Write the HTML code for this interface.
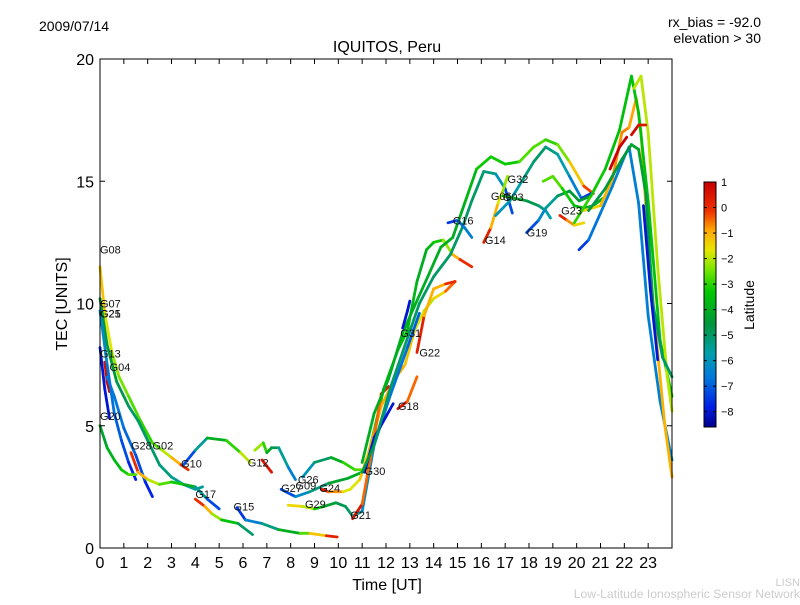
<!DOCTYPE html>
<html><head><meta charset="utf-8"><style>
body{margin:0;background:#fff;}
svg text{font-family:"Liberation Sans","DejaVu Sans",sans-serif;}
</style></head><body>
<svg id="chart" width="800" height="600" xmlns="http://www.w3.org/2000/svg">
<rect width="800" height="600" fill="#fff"/>
<text x="39" y="31" font-size="14">2009/07/14</text>
<text x="761" y="27" font-size="14" text-anchor="end">rx_bias = -92.0</text>
<text x="761" y="43" font-size="14" text-anchor="end">elevation &gt; 30</text>
<text x="387" y="52" font-size="16" text-anchor="middle">IQUITOS, Peru</text>
<text x="387" y="590" font-size="16" text-anchor="middle">Time [UT]</text>
<text x="0" y="0" font-size="16" text-anchor="middle" transform="translate(67,304) rotate(-90)">TEC [UNITS]</text>
<text x="0" y="0" font-size="14" text-anchor="middle" transform="translate(754,305) rotate(-90)">Latitude</text>
<text x="800" y="586" font-size="11" fill="#ccc" text-anchor="end">LISN</text>
<text x="800" y="598" font-size="12.2" fill="#ccc" text-anchor="end">Low-Latitude Ionospheric Sensor Network</text>
<g id="plot"></g>
<g id="axes"></g>
<g id="cbar"></g>
</svg>
<script>
const xTicks=[0,1,2,3,4,5,6,7,8,9,10,11,12,13,14,15,16,17,18,19,20,21,22,23];
const yTicks=[0,5,10,15,20];
const cbTicks=[1,0,-1,-2,-3,-4,-5,-6,-7,-8];
const latMin=-8.6, latMax=1.0;
const tracks=[
{t:[0,0.2,0.5,0.8,1.2,1.7,2.2,2.6,3.0,3.4,3.7],v:[11.5,9.6,8.0,7.0,6.2,5.2,4.3,4.0,3.7,3.4,3.2],lat:[-1,-1.5,-2,-2.5,-2.5,-3,-3,-2.5,-1.5,-0.5,0.5]},
{t:[0,0.3,0.7,1.2,1.6,2.0,2.5,3.0,3.5,4.0,4.3],v:[10.2,8.3,6.8,5.8,5.2,4.4,3.4,2.9,2.6,2.4,2.5],lat:[-4.5,-4.5,-4.5,-5,-5,-5,-5,-5.5,-5.5,-6,-5]},
{t:[0,0.2,0.4],v:[8.2,6.5,5.3],lat:[-8,-8,-8]},
{t:[0.2,0.3,0.4],v:[7.6,6.8,6.4],lat:[0.5,0.8,1]},
{t:[0.3,0.6,1.0,1.5,1.9,2.2],v:[7.0,6.2,4.9,3.8,2.7,2.1],lat:[-6.5,-6.5,-6.8,-7,-7.5,-8]},
{t:[0,0.3,0.6,0.9,1.2,1.5],v:[9.7,7.5,5.5,4.4,3.5,2.8],lat:[-6,-6.5,-7,-7,-7.5,-8]},
{t:[0,0.3,0.6,0.9,1.2,1.5],v:[5.0,4.1,3.6,3.2,3.0,3.0],lat:[-4.5,-4,-3.8,-3.5,-3,-2.5]},
{t:[1.3,1.6,2.0,2.5,3.0,3.5,4.0,4.5,5.0],v:[3.9,3.1,2.8,2.6,2.7,2.6,2.5,2.0,1.6],lat:[0.5,-0.5,-1.5,-2.5,-3,-3.5,-4.5,-6.5,-8]},
{t:[4.0,4.4,4.7,5.1,5.8,6.4],v:[2.0,1.7,1.4,1.15,1.0,0.55],lat:[0.5,-0.5,-1.5,-3,-4,-6]},
{t:[5.75,6.1,6.8,7.5,8.4,8.8,9.5,9.95],v:[1.65,1.15,1.0,0.75,0.6,0.6,0.5,0.45],lat:[-8,-7,-6,-4.5,-3.5,-2,-0.5,1]},
{t:[3.5,4.0,4.5,5.3,5.9,6.3],v:[3.4,4.0,4.5,4.4,3.9,3.5],lat:[-8,-6.5,-4.5,-3.5,-2.5,-1.5]},
{t:[6.5,6.85,7.0,7.2,7.5,7.9,8.2],v:[4.0,4.3,3.9,4.1,4.1,3.3,2.8],lat:[-2,-2.5,-3.5,-4.5,-5,-6,-7]},
{t:[6.8,7.2],v:[3.6,3.1],lat:[0,1]},
{t:[8.5,9.0,9.7,10.2,10.7,11.1,11.5,11.9,12.5,12.9,13.3,13.7,14.0,14.4,14.8,15.1,15.6],v:[2.9,3.5,3.7,3.5,3.2,3.2,4.8,6.5,8.1,8.9,10.9,12.2,12.5,12.6,12.0,11.8,11.5],lat:[-6.5,-5.5,-4.5,-3.5,-2.5,-3,-3.5,-3.5,-3.5,-3.5,-4,-4,-3.5,-3,-1.5,-0.5,0.5]},
{t:[7.6,8.2,8.8,9.6,10.4,11.0],v:[2.4,2.1,2.3,2.65,2.85,3.1],lat:[-8,-6.5,-6,-4.5,-4,-4]},
{t:[9.3,9.6,10.2,10.5,10.9,11.3,11.8,12.3,12.8,13.2,13.6,14.0,14.5,14.9],v:[2.4,2.3,2.3,2.4,2.8,4.0,5.8,6.8,7.5,8.9,9.7,10.2,10.5,10.9],lat:[1,0,-1.5,-2,-1.5,-1,-1,-1,-1,-1.5,-2,-2,-1,0]},
{t:[7.9,8.5,9.0,9.4,9.9,10.3,10.6,11.0,11.5,12.2,12.9,13.4],v:[1.75,1.7,1.6,1.7,1.85,1.7,1.3,1.5,4.2,6.3,8.2,9.6],lat:[-2,-1,-3,-4,-4.5,-5,-5,-6,-6.5,-6.5,-7,-7]},
{t:[10.6,11.0,11.5,11.8,12.1],v:[1.2,1.8,4.5,6.3,6.6],lat:[1,0,-1,0,1]},
{t:[11.1,11.5,12.3],v:[3.1,4.5,5.9],lat:[-8,-8,-8]},
{t:[12.5,12.9,13.3],v:[5.7,6.0,7.0],lat:[1,0,-1]},
{t:[13.3,13.6,14.0,14.5,14.9],v:[8.0,9.5,10.6,10.8,10.9],lat:[1,-0.5,-1.5,-0.5,0.5]},
{t:[11.0,11.5,12.2,12.8,13.4,14.0,14.7,15.2,15.6,16.1,16.6,17.0,17.3],v:[3.1,4.2,6.6,8.3,10.0,11.1,12.0,13.1,14.2,15.4,15.3,14.7,13.7],lat:[-4.5,-5,-5,-5,-5,-5,-5,-5,-5,-5,-5.5,-6.5,-8]},
{t:[11.0,11.5,12.1,12.7,13.2,13.8,14.3,14.8,15.3,15.8,16.4,17.0,17.6,18.2,18.7,19.2,19.7,20.3,20.7],v:[3.5,5.5,6.9,8.8,9.9,11.2,12.3,12.7,14.1,15.5,16.0,15.7,15.8,16.4,16.7,16.5,15.8,14.8,14.5],lat:[-4,-4,-4,-4,-4,-4,-4,-4,-4,-3.5,-3,-3.5,-3,-2.5,-3,-3,-2,-0.5,0]},
{t:[14.6,15.0,15.3,15.6],v:[13.3,13.4,13.1,12.7],lat:[-8,-7,-6.5,-6.5]},
{t:[16.1,16.4,16.7,16.9,17.1],v:[12.5,13.1,14.1,14.6,15.2],lat:[1,-0.5,-1.5,-2,-2.5]},
{t:[16.6,17.2,17.7,18.2,18.7,19.2,19.7,20.2,20.6],v:[13.6,14.2,15.0,15.8,16.4,16.1,15.2,14.3,14.5],lat:[-6,-6,-5.5,-5,-5,-5.5,-6,-7,-8]},
{t:[16.9,17.4,17.9,18.4,18.7,18.9],v:[14.4,14.3,14.2,14.0,13.8,13.5],lat:[-3.5,-4,-4.5,-5,-5.5,-6]},
{t:[17.9,18.4,18.7,19.2,19.7,20.1,20.6],v:[12.9,13.4,13.9,14.4,14.6,14.2,14.4],lat:[-8,-6.5,-6,-5,-4.5,-4.5,-4.5]},
{t:[18.6,19.0,19.4,19.9,20.3,20.7,21.1],v:[15.0,15.2,14.7,14.0,13.9,14.0,14.3],lat:[-3,-2.5,-3,-3.5,-4,-4,-4]},
{t:[19.3,19.6,19.9,20.3],v:[13.6,13.4,13.2,13.3],lat:[1,-0.5,-1,-2]},
{t:[20.1,20.5,21.0,21.5,22.0,22.2,22.6,23.0,23.5,24.0],v:[12.2,12.6,13.7,14.8,16.0,16.4,14.1,9.5,6.0,3.6],lat:[-8,-7,-6.5,-6.5,-6.5,-6.5,-6.5,-6.5,-6.5,-6.3]},
{t:[20.3,21.0,21.5,21.9,22.2,22.5,22.7,23.0,23.3,23.7,24.0],v:[13.8,14.0,15.1,17.0,17.2,18.4,17.0,12.5,9.0,5.0,2.9],lat:[-2,-1,-1,-0.5,-0.8,-1,-1,-1,-1,-1,-1]},
{t:[19.9,20.6,21.2,21.8,22.3,22.6,23.0,23.5,24.0],v:[13.3,14.4,15.5,17.1,19.3,17.8,14.2,8.5,6.2],lat:[-3,-3,-3.5,-3.5,-3.5,-3.5,-3.5,-3.5,-3.5]},
{t:[22.4,22.7,23.0,23.4,23.8,24.0],v:[18.8,19.3,17.0,11.5,7.0,5.6],lat:[-2,-2,-2,-2,-2,-2]},
{t:[20.5,21.2,21.9,22.3,22.6,22.9,23.2,23.6,24.0],v:[13.8,14.7,15.9,16.5,16.3,14.5,10.0,7.8,7.0],lat:[-5,-4.5,-4.5,-4.5,-4,-4.5,-5,-5,-5]},
{t:[21.4,21.8,22.1],v:[15.5,16.4,16.8],lat:[1,1,1]},
{t:[22.3,22.6,22.9],v:[16.9,17.3,17.3],lat:[1,0.5,0.5]},
{t:[22.8,23.1,23.4],v:[14.0,10.5,7.7],lat:[-8,-8,-8]},
{t:[12.7,12.9,13.0],v:[9.0,9.7,10.1],lat:[-8,-8,-8]}
];
const labelNames=["G08","G07","G25","G21","G13","G04","G20","G28","G02","G10","G12","G17","G15","G27","G26","G09","G24","G29","G21","G30","G18","G31","G22","G16","G14","G06","G03","G32","G19","G23"];
const labelT=[0,0,0,0,0,0.4,0,1.3,2.2,3.4,6.2,4.0,5.6,7.6,8.3,8.2,9.2,8.6,10.5,11.1,12.5,12.6,13.4,14.8,16.15,16.4,16.9,17.1,17.9,19.35];
const labelV=[12.2,10.0,9.6,9.6,7.95,7.4,5.4,4.2,4.2,3.45,3.5,2.2,1.7,2.45,2.8,2.55,2.45,1.8,1.35,3.15,5.8,8.8,8.0,13.4,12.6,14.4,14.35,15.1,12.9,13.8];

const X0=100,X1=672,Y0=548,Y1=59;
const xs=t=>X0+(X1-X0)*t/24;
const ys=v=>Y0-(Y0-Y1)*v/20;
const CB={x:704,w:12,top:182,bot:427};
const cy=l=>CB.bot-(CB.bot-CB.top)*(l-latMin)/(latMax-latMin);
const stops=[[0,[0,0,140]],[0.08,[0,30,230]],[0.2,[0,120,220]],[0.3,[0,160,170]],[0.42,[0,150,60]],[0.55,[0,200,0]],[0.64,[120,230,0]],[0.72,[230,230,0]],[0.8,[255,170,0]],[0.88,[240,50,0]],[1,[200,0,0]]];
function col(l){let f=(l-latMin)/(latMax-latMin);f=Math.max(0,Math.min(1,f));
for(let i=1;i<stops.length;i++){if(f<=stops[i][0]){const a=stops[i-1],b=stops[i];const k=(f-a[0])/(b[0]-a[0]);
const c=a[1].map((x,j)=>Math.round(x+(b[1][j]-x)*k));return `rgb(${c[0]},${c[1]},${c[2]})`;}}return 'rgb(200,0,0)';}
const NS='http://www.w3.org/2000/svg';
function mk(tag,attrs,parent){const e=document.createElementNS(NS,tag);for(const k in attrs)e.setAttribute(k,attrs[k]);parent.appendChild(e);return e;}
const plot=document.getElementById('plot'),axes=document.getElementById('axes'),cb=document.getElementById('cbar');
tracks.forEach((tr,ti)=>{
  const g=mk('g',{},plot);
  
  
  for(let i=1;i<tr.t.length;i++){
    const s=mk('line',{x1:xs(tr.t[i-1]),y1:ys(tr.v[i-1]),x2:xs(tr.t[i]),y2:ys(tr.v[i]),stroke:col((tr.lat[i-1]+tr.lat[i])/2),'stroke-width':2.8,'stroke-linecap':'round'},g);
    
    
  }
});
labelNames.forEach((n,i)=>{
  const t=mk('text',{x:xs(labelT[i]),y:ys(labelV[i])+4,'font-size':11,fill:'#111'},plot);
  t.textContent=n;
  
  
});
const fr=mk('rect',{x:X0,y:Y1,width:X1-X0,height:Y0-Y1,fill:'none',stroke:'#000','stroke-width':1},axes);


xTicks.forEach(t=>{const x=xs(t);
  mk('line',{x1:x,y1:Y0,x2:x,y2:Y0-5,stroke:'#000'},axes);mk('line',{x1:x,y1:Y1,x2:x,y2:Y1+5,stroke:'#000'},axes);
  const l=mk('text',{x:x,y:Y0+20,'font-size':16,'text-anchor':'middle'},axes);l.textContent=t;
  
  });
yTicks.forEach(v=>{const y=ys(v);
  mk('line',{x1:X0,y1:y,x2:X0+5,y2:y,stroke:'#000'},axes);mk('line',{x1:X1,y1:y,x2:X1-5,y2:y,stroke:'#000'},axes);
  const l=mk('text',{x:X0-6,y:y+6,'font-size':16,'text-anchor':'end'},axes);l.textContent=v;
  
  });
for(let y=CB.bot;y>CB.top;y-=1){mk('rect',{x:CB.x,y:y-1,width:CB.w,height:1.2,fill:col(latMin+(CB.bot-y)/(CB.bot-CB.top)*(latMax-latMin))},cb);}
const cbf=mk('rect',{x:CB.x,y:CB.top,width:CB.w,height:CB.bot-CB.top,fill:'none',stroke:'#000'},cb);


cbTicks.forEach(l=>{const y=cy(l);
  mk('line',{x1:CB.x,y1:y,x2:CB.x+3,y2:y,stroke:'#000'},cb);mk('line',{x1:CB.x+CB.w,y1:y,x2:CB.x+CB.w-3,y2:y,stroke:'#000'},cb);
  const t=mk('text',{x:CB.x+CB.w+5,y:y+4,'font-size':11},cb);t.textContent=l<0?'\u2212'+(-l):l;
  
  });
</script>
</body></html>
